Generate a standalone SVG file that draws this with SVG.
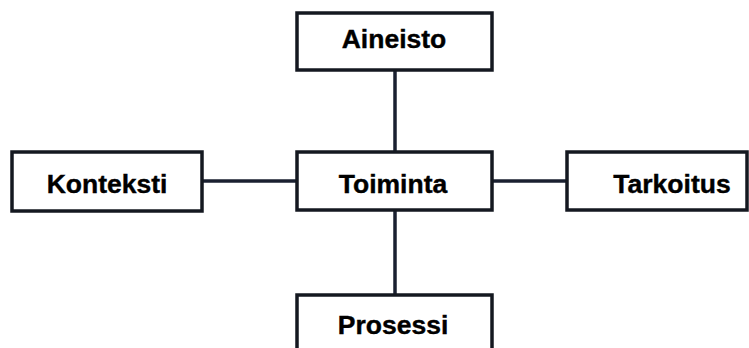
<svg xmlns="http://www.w3.org/2000/svg" width="749" height="348" viewBox="0 0 749 348">
<style>
.box{fill:#fff;stroke:#141820;stroke-width:3.5}
.lbl{font-family:"Liberation Sans",Arial,sans-serif;font-weight:bold;font-size:26.5px;fill:#000;text-anchor:middle;stroke:#000;stroke-width:0.4}
.con{stroke:#1a2030;stroke-width:3.5;fill:none}
</style>
<rect width="749" height="348" fill="#fff"/>
<g id="connectors">
<line class="con" x1="395" y1="70" x2="395" y2="152"/>
<line class="con" x1="395" y1="210" x2="395" y2="295"/>
<line class="con" x1="202" y1="181" x2="297" y2="181"/>
<line class="con" x1="492" y1="181" x2="567" y2="181"/>
</g>
<g id="aineisto"><rect class="box" x="297" y="13" width="195" height="57"/><text class="lbl" x="394" y="48">Aineisto</text></g>
<g id="konteksti"><rect class="box" x="12" y="152" width="190" height="59"/><text class="lbl" x="107" y="193">Konteksti</text></g>
<g id="toiminta"><rect class="box" x="297" y="152" width="195" height="58"/><text class="lbl" x="393" y="193">Toiminta</text></g>
<g id="tarkoitus"><rect class="box" x="567" y="152" width="180" height="58"/><text class="lbl" x="672" y="193">Tarkoitus</text></g>
<g id="prosessi"><rect class="box" x="297" y="295" width="195" height="60"/><text class="lbl" x="393" y="334">Prosessi</text></g>
</svg>
